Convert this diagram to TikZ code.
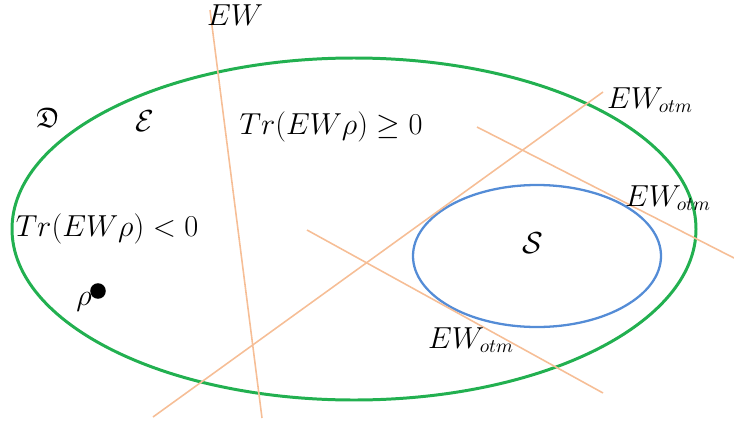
\documentclass[tikz,border=0pt]{standalone}
\usepackage{amsmath,amssymb}
\usetikzlibrary{calc}
\definecolor{setgreen}{RGB}{34,176,80}
\definecolor{setblue}{RGB}{84,140,214}
\definecolor{witness}{RGB}{246,190,150}
\tikzset{
  setline/.style={
    line width=1.7pt,
    draw=setgreen
  },
  sepline/.style={
    line width=1.3pt,
    draw=setblue
  },
  witnessline/.style={
    line width=0.9pt,
    draw=witness
  },
  lbl/.style={
    inner sep=0pt,
    font=\fontsize{16}{18}\selectfont
  },
  state/.style={
    inner sep=0.11cm,
    shape=circle,
    fill=black
  }
}
\begin{document}
\begin{tikzpicture}[x=0.02cm,y=-0.02cm]
    \useasboundingbox (0,0) rectangle (734,423);
    % sets
    \draw[setline] (354,229) ellipse [x radius=342, y radius=171];
    \draw[sepline] (537,256) ellipse [x radius=124, y radius=71];
    % witness lines
    \coordinate (ew1) at (210,10);
    \coordinate (ew2) at (262,418);
    \coordinate (ot1) at (153,417);
    \coordinate (ot2) at (603,92);
    \coordinate (ot3) at (477,127);
    \coordinate (ot4) at (734,258);
    \coordinate (ot5) at (307,230);
    \coordinate (ot6) at (603,393);
    \foreach \a/\b in {ew1/ew2,ot1/ot2,ot3/ot4,ot5/ot6}{
        \draw[witnessline] (\a) -- (\b);
    }
    % labels
    \node[lbl] (ew) at (235,15) {$EW$};
    \node[lbl] (otmA) at (650,100) {$EW_{otm}$};
    \node[lbl] (otmB) at (668,198) {$EW_{otm}$};
    \node[lbl] (otmC) at (471,340) {$EW_{otm}$};
    \node[lbl] (d) at (48,118) {$\mathfrak{D}$};
    \node[lbl] (e) at (145,121) {$\mathcal{E}$};
    \node[lbl] (s) at (533,243) {$\mathcal{S}$};
    \node[lbl] (pos) at (331,127) {$Tr(EW\rho)\geq 0$};
    \node[lbl] (neg) at (107,229) {$Tr(EW\rho)<0$};
    \node[state] (rho) at (98,291) {};
    \node[lbl] (rholbl) at (84,302) {$\rho$};
\end{tikzpicture}
\end{document}
